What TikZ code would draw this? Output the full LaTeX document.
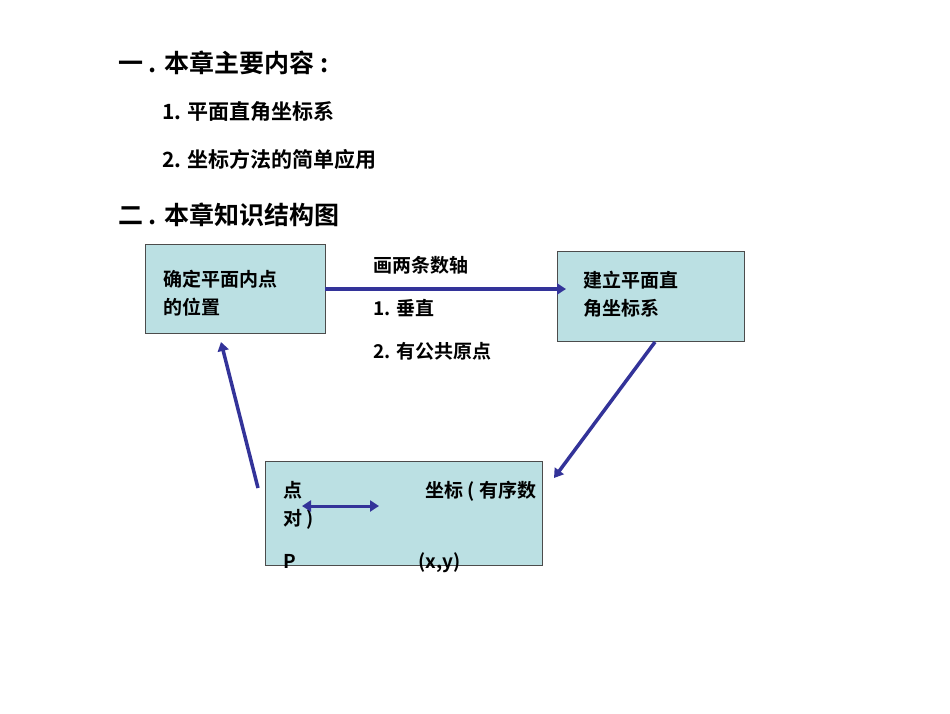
\documentclass[tikz,border=0pt]{standalone}
\usepackage{fontspec}
\usetikzlibrary{arrows.meta}
\setmainfont{Noto Sans CJK SC}[BoldFont={* Bold}]
\begin{document}
\begin{tikzpicture}[x=1pt,y=-1pt,
 box/.style={draw=black!70,fill={rgb,255:red,187;green,224;blue,227},line width=0.8pt},
 arr/.style={draw={rgb,255:red,51;green,51;blue,153},line width=3.5pt,-{Triangle[length=9pt,width=11pt]}},
 txt/.style={anchor=base west,inner sep=0pt,font=\fontsize{19}{22}\selectfont\bfseries},
 head/.style={anchor=base west,inner sep=0pt,font=\fontsize{25}{30}\selectfont\bfseries},
 sub/.style={anchor=base west,inner sep=0pt,font=\fontsize{21}{25}\selectfont\bfseries}]
\useasboundingbox (0,0) rectangle (950,713);
\node[head] (h1) at (118,72) {一 . 本章主要内容 :};
\node[sub] (s1) at (162,119) {1. 平面直角坐标系};
\node[sub] (s2) at (162,167) {2. 坐标方法的简单应用};
\node[head] (h2) at (118,224) {二 . 本章知识结构图};
\node[box,minimum width=180pt,minimum height=89pt,anchor=north west] (b1) at (145,244) {};
\node[box,minimum width=187pt,minimum height=90pt,anchor=north west] (b2) at (557,251) {};
\node[box,minimum width=277pt,minimum height=104pt,anchor=north west] (b3) at (265,461) {};
\node[txt] (t1) at (163,286) {确定平面内点};
\node[txt] (t2) at (163,314) {的位置};
\node[txt] (t3) at (373,272) {画两条数轴};
\node[txt] (t4) at (373,315) {1. 垂直};
\node[txt] (t5) at (373,358) {2. 有公共原点};
\node[txt] (t6) at (583,287) {建立平面直};
\node[txt] (t7) at (583,315) {角坐标系};
\node[txt] (t8) at (283,497) {点};
\node[txt] (t9) at (425,497) {坐标 ( 有序数};
\node[txt] (t10) at (283,525) {对 )};
\node[txt] (t11) at (283,568) {P};
\node[txt] (t12) at (418,568) {(x,y)};
\coordinate (a1) at (325,289); \coordinate (a2) at (566,289);
\coordinate (c1) at (655,342); \coordinate (c2) at (554,478);
\coordinate (d1) at (258,488); \coordinate (d2) at (221,342);
\coordinate (e1) at (302,506); \coordinate (e2) at (379,506);
\draw[arr] (a1) -- (a2);
\draw[arr] (c1) -- (c2);
\draw[arr] (d1) -- (d2);
\draw[arr,line width=3pt,{Triangle[length=9pt,width=11pt]}-{Triangle[length=9pt,width=11pt]}] (e1) -- (e2);
\end{tikzpicture}
\end{document}
